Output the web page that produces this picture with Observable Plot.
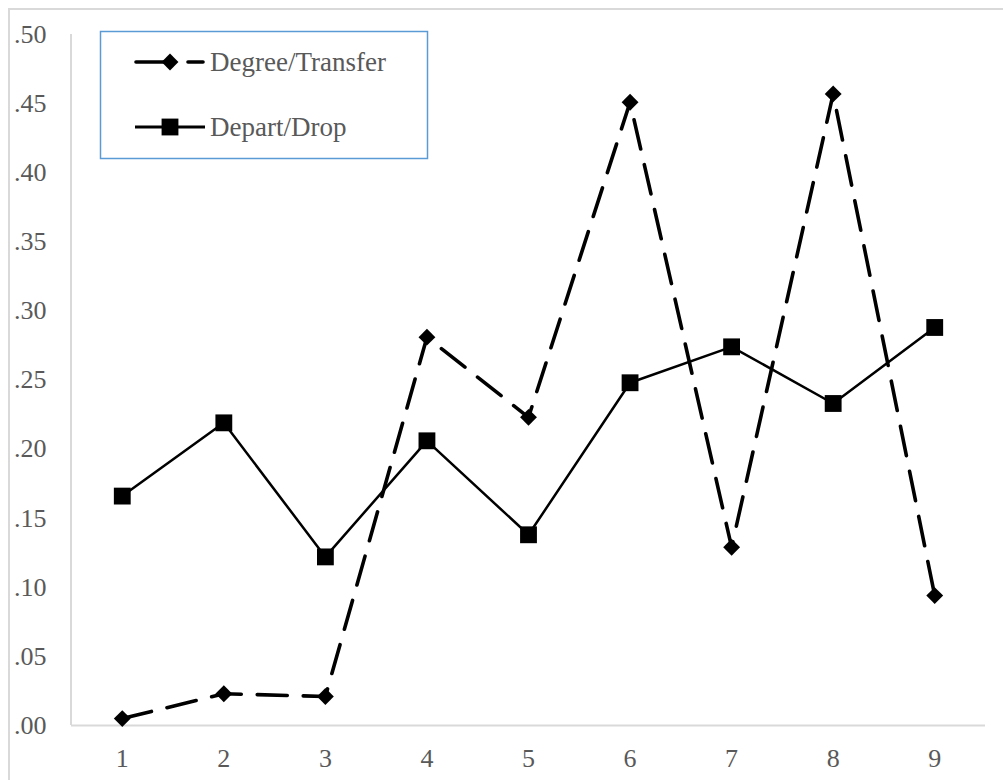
<!DOCTYPE html>
<html>
<head>
<meta charset="utf-8">
<script src="https://cdn.jsdelivr.net/npm/d3@7"></script>
<script src="https://cdn.jsdelivr.net/npm/@observablehq/plot@0.6"></script>
<style>
  html, body { margin: 0; padding: 0; background: #fff; }
  #wrap { position: relative; width: 1003px; height: 780px; overflow: hidden; }
  #border { position: absolute; left: 8px; top: 8px; width: 1100px; height: 900px;
            border-left: 2px solid #d9d9d9; border-top: 2px solid #d9d9d9; pointer-events: none; }
  #wrap svg, #wrap svg text { font-family: "Liberation Serif", "Times New Roman", serif !important; }
</style>
</head>
<body>
<div id="wrap"><div id="border"></div></div>
<script>
// ---- data ----
const periods = [1, 2, 3, 4, 5, 6, 7, 8, 9];
const degreeTransfer = [0.005, 0.023, 0.021, 0.281, 0.223, 0.451, 0.129, 0.457, 0.094];
const departDrop = [0.166, 0.219, 0.122, 0.206, 0.138, 0.248, 0.274, 0.233, 0.288];
const yTicks = [0, 0.05, 0.10, 0.15, 0.20, 0.25, 0.30, 0.35, 0.40, 0.45, 0.50];
const seriesNames = ["Degree/Transfer", "Depart/Drop"];

const dtData = periods.map((p, i) => ({period: p, value: degreeTransfer[i]}));
const ddData = periods.map((p, i) => ({period: p, value: departDrop[i]}));

const fmt = v => d3.format(".2f")(v).replace(/^0/, "");
const textColor = "#595959";
const axisColor = "#d9d9d9";
const serif = "'Liberation Serif', 'Times New Roman', serif";

const marginLeft = 71, marginRight = 18, marginTop = 34, marginBottom = 55;

const chart = Plot.plot({
  width: 1003,
  height: 780,
  marginLeft, marginRight, marginTop, marginBottom,
  style: {background: "transparent", fontFamily: serif},
  x: {type: "point", domain: periods, padding: 0.5, round: false},
  y: {domain: [0, 0.5]},
  marks: [
    Plot.axisY({ticks: yTicks, tickFormat: fmt, tickSize: 0, tickPadding: 25, fontSize: 26, fill: textColor, label: null}),
    Plot.axisX({tickSize: 0, tickPadding: 23, fontSize: 26, fill: textColor, label: null}),
    Plot.ruleY([0], {stroke: axisColor, strokeWidth: 2}),
    Plot.line(ddData, {x: "period", y: "value", stroke: "#000", strokeWidth: 2.5}),
    Plot.line(dtData, {x: "period", y: "value", stroke: "#000", strokeWidth: 3.6, strokeDasharray: "30,16", strokeLinecap: "round"}),
    Plot.dot(ddData, {x: "period", y: "value", symbol: "square", r: 9.5, fill: "#000", stroke: null}),
    Plot.dot(dtData, {x: "period", y: "value", symbol: "diamond2", r: 7.6, fill: "#000", stroke: null})
  ]
});

const svg = d3.select(chart);
// y axis line
const yScale = chart.scale("y");
svg.append("line")
  .attr("x1", marginLeft).attr("x2", marginLeft)
  .attr("y1", Math.min(...yScale.range)).attr("y2", Math.max(...yScale.range))
  .attr("stroke", axisColor).attr("stroke-width", 2);

// legend
const lg = svg.append("g");
lg.append("rect").attr("x", 100.5).attr("y", 31.5).attr("width", 327).attr("height", 127)
  .attr("fill", "#fff").attr("stroke", "#5b9bd5").attr("stroke-width", 1.5);
const legendRows = [
  {name: seriesNames[0], y: 62, dashed: true, symbol: d3.symbolDiamond2, size: Math.PI * 7.6 * 7.6},
  {name: seriesNames[1], y: 127, dashed: false, symbol: d3.symbolSquare, size: Math.PI * 9.5 * 9.5}
];
for (const r of legendRows) {
  if (r.dashed) {
    lg.append("line").attr("x1", 136).attr("x2", 170).attr("y1", r.y).attr("y2", r.y)
      .attr("stroke", "#000").attr("stroke-width", 3.6).attr("stroke-linecap", "round");
    lg.append("line").attr("x1", 188).attr("x2", 203).attr("y1", r.y).attr("y2", r.y)
      .attr("stroke", "#000").attr("stroke-width", 3.6).attr("stroke-linecap", "round");
  } else {
    lg.append("line").attr("x1", 135).attr("x2", 205).attr("y1", r.y).attr("y2", r.y)
      .attr("stroke", "#000").attr("stroke-width", 2.8);
  }
  lg.append("path").attr("d", d3.symbol(r.symbol, r.size)()).attr("transform", `translate(170,${r.y})`).attr("fill", "#000");
  lg.append("text").attr("x", 210).attr("y", r.y).attr("dy", "0.35em")
    .style("font-size", "27px").style("text-anchor", "start")
    .attr("fill", textColor).text(r.name);
}

document.getElementById("wrap").prepend(chart);
</script>
</body>
</html>
